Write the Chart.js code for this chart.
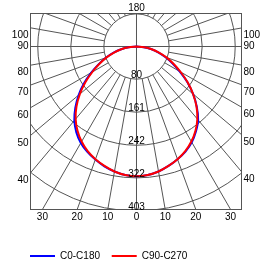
<!DOCTYPE html>
<html>
<head>
<meta charset="utf-8">
<script src="https://cdn.jsdelivr.net/npm/chart.js@4"></script>
<style>
  body { margin: 0; background: #fff; }
</style>
</head>
<body>
<canvas id="polarChart" width="275" height="265"></canvas>
<script>
// gamma angles (deg from nadir) and luminous intensity
var angles = [0, 5, 10, 15, 20, 25, 30, 35, 40, 45, 50, 55, 60, 65, 70, 75, 80, 85, 90];
var c0   = [318, 316, 311, 303, 294, 284, 271, 254, 235, 209, 181, 152, 122, 97, 75, 55, 36, 18, 0];
var c180 = [318, 316, 311, 304, 295, 285, 273, 257, 237, 212, 185, 157, 128, 102, 79, 58, 38, 19, 0];
var c90  = [318, 316, 311, 303, 294, 283, 269, 252, 232, 208, 181, 153, 125, 100, 78, 57, 38, 19, 0];
var c270 = [318, 316, 311, 303, 294, 283, 269, 252, 232, 208, 181, 153, 125, 100, 78, 57, 38, 19, 0];

var ringLabels = [80, 161, 242, 322, 403];
var sideLabels = [100, 90, 80, 70, 60, 50, 40];
var bottomLabels = [30, 20, 10, 0, 10, 20, 30];
var seriesNames = ["C0-C180", "C90-C270"];

// left half uses the second plane, right half the first one
function curve(right, left) {
    var pts = [];
    for (var i = angles.length - 1; i >= 0; i--) {
        var a = angles[i] * Math.PI / 180;
        pts.push({x: -left[i] * Math.sin(a), y: -left[i] * Math.cos(a)});
    }
    for (var j = 1; j < angles.length; j++) {
        var b = angles[j] * Math.PI / 180;
        pts.push({x: right[j] * Math.sin(b), y: -right[j] * Math.cos(b)});
    }
    return pts;
}

var gridColor = "#555555";
var labelFont = "10px 'Liberation Sans', Arial, sans-serif";

var polarGrid = {
    id: "polarGrid",
    beforeDatasetsDraw: function (chart) {
        var ctx = chart.ctx, a = chart.chartArea;
        var sx = chart.scales.x, sy = chart.scales.y;
        var cx = sx.getPixelForValue(0), cy = sy.getPixelForValue(0);
        var kx = sx.getPixelForValue(1) - cx, ky = cy - sy.getPixelForValue(1);
        ctx.save();
        ctx.beginPath();
        ctx.rect(a.left, a.top, a.width, a.height);
        ctx.clip();
        ctx.strokeStyle = gridColor;
        ctx.lineWidth = 1;
        ringLabels.forEach(function (r) {
            ctx.beginPath();
            ctx.ellipse(cx, cy, r * kx, r * ky, 0, 0, Math.PI * 2);
            ctx.stroke();
        });
        // spokes every 10 deg, starting at the first ring
        var r0 = ringLabels[0];
        for (var g = 10; g < 180; g += 10) {
            if (g === 90) continue;
            var t = g * Math.PI / 180;
            [-1, 1].forEach(function (s) {
                ctx.beginPath();
                ctx.moveTo(cx + s * r0 * Math.sin(t) * kx, cy + r0 * Math.cos(t) * ky);
                ctx.lineTo(cx + s * 2000 * Math.sin(t) * kx, cy + 2000 * Math.cos(t) * ky);
                ctx.stroke();
            });
        }
        ctx.beginPath();
        ctx.moveTo(cx, a.top); ctx.lineTo(cx, a.bottom);
        ctx.moveTo(a.left, cy); ctx.lineTo(a.right, cy);
        ctx.stroke();
        ctx.restore();
        ctx.save();
        ctx.strokeStyle = gridColor;
        ctx.lineWidth = 1;
        ctx.strokeRect(a.left, a.top, a.width, a.height);
        ctx.restore();
    },
    afterDatasetsDraw: function (chart) {
        var ctx = chart.ctx, a = chart.chartArea;
        var sx = chart.scales.x, sy = chart.scales.y;
        var cx = sx.getPixelForValue(0), cy = sy.getPixelForValue(0);
        var ky = cy - sy.getPixelForValue(1);
        ctx.save();
        ctx.fillStyle = "#000";
        ctx.font = labelFont;
        ctx.textBaseline = "middle";
        ctx.textAlign = "center";
        ringLabels.forEach(function (r) {
            ctx.fillText(String(r), cx, cy + r * ky - 4);
        });
        ctx.fillText("180", cx, a.top - 5);
        bottomLabels.forEach(function (g, i) {
            var s = i < 3 ? -1 : 1;
            var x = cx + s * (a.bottom - cy) * Math.tan(g * Math.PI / 180);
            ctx.fillText(String(g), x, a.bottom + 8);
        });
        sideLabels.forEach(function (g) {
            var t = g * Math.PI / 180;
            var off = g === 90 ? 0 : 7.5;
            ctx.textAlign = "right";
            ctx.fillText(String(g), a.left - 2, cy + (cx - a.left) / Math.tan(t) + off);
            ctx.textAlign = "left";
            ctx.fillText(String(g), a.right + 2, cy + (a.right - cx) / Math.tan(t) + off);
        });
        ctx.restore();
    }
};

var ctx = document.getElementById("polarChart");
var chart = new Chart(ctx, {
    type: "scatter",
    data: {
        datasets: [{
                label: seriesNames[0],
                data: curve(c0, c180),
                borderColor: "#0000ff",
                backgroundColor: "#0000ff",
                borderWidth: 2,
                showLine: true,
                pointRadius: 0,
                tension: 0.3,
                order: 1
            },
            {
                label: seriesNames[1],
                data: curve(c90, c270),
                borderColor: "#ff0000",
                backgroundColor: "#ff0000",
                borderWidth: 2,
                showLine: true,
                pointRadius: 0,
                tension: 0.3,
                order: 0
            }
        ]
    },
    options: {
        responsive: false,
        animation: false,
        devicePixelRatio: 1,
        layout: {
            padding: {left: 18.3, right: 33.5, top: 13.5, bottom: -6}
        },
        scales: {
            x: {display: false, min: -259.8, max: 257.4},
            y: {
                min: -399.5, max: 80.9,
                grid: {display: false},
                border: {display: false},
                ticks: {display: false},
                afterFit: function (s) { s.width = 12.2; }
            }
        },
        plugins: {
            tooltip: {enabled: false},
            legend: {
                position: "bottom",
                align: "start",
                title: {display: true, text: "", font: {size: 10}, padding: {top: 17.8, bottom: 0}},
                labels: {
                    boxWidth: 25,
                    boxHeight: 2,
                    padding: 11.7,
                    color: "#000",
                    font: {family: "'Liberation Sans', Arial, sans-serif", size: 10},
                    sort: function (a, b) { return a.datasetIndex - b.datasetIndex; },
                    generateLabels: function (chart) {
                        return Chart.defaults.plugins.legend.labels.generateLabels(chart).map(function (l) {
                            l.lineWidth = 0;
                            l.fillStyle = l.strokeStyle;
                            return l;
                        });
                    }
                }
            }
        }
    },
    plugins: [polarGrid]
});
</script>
</body>
</html>
